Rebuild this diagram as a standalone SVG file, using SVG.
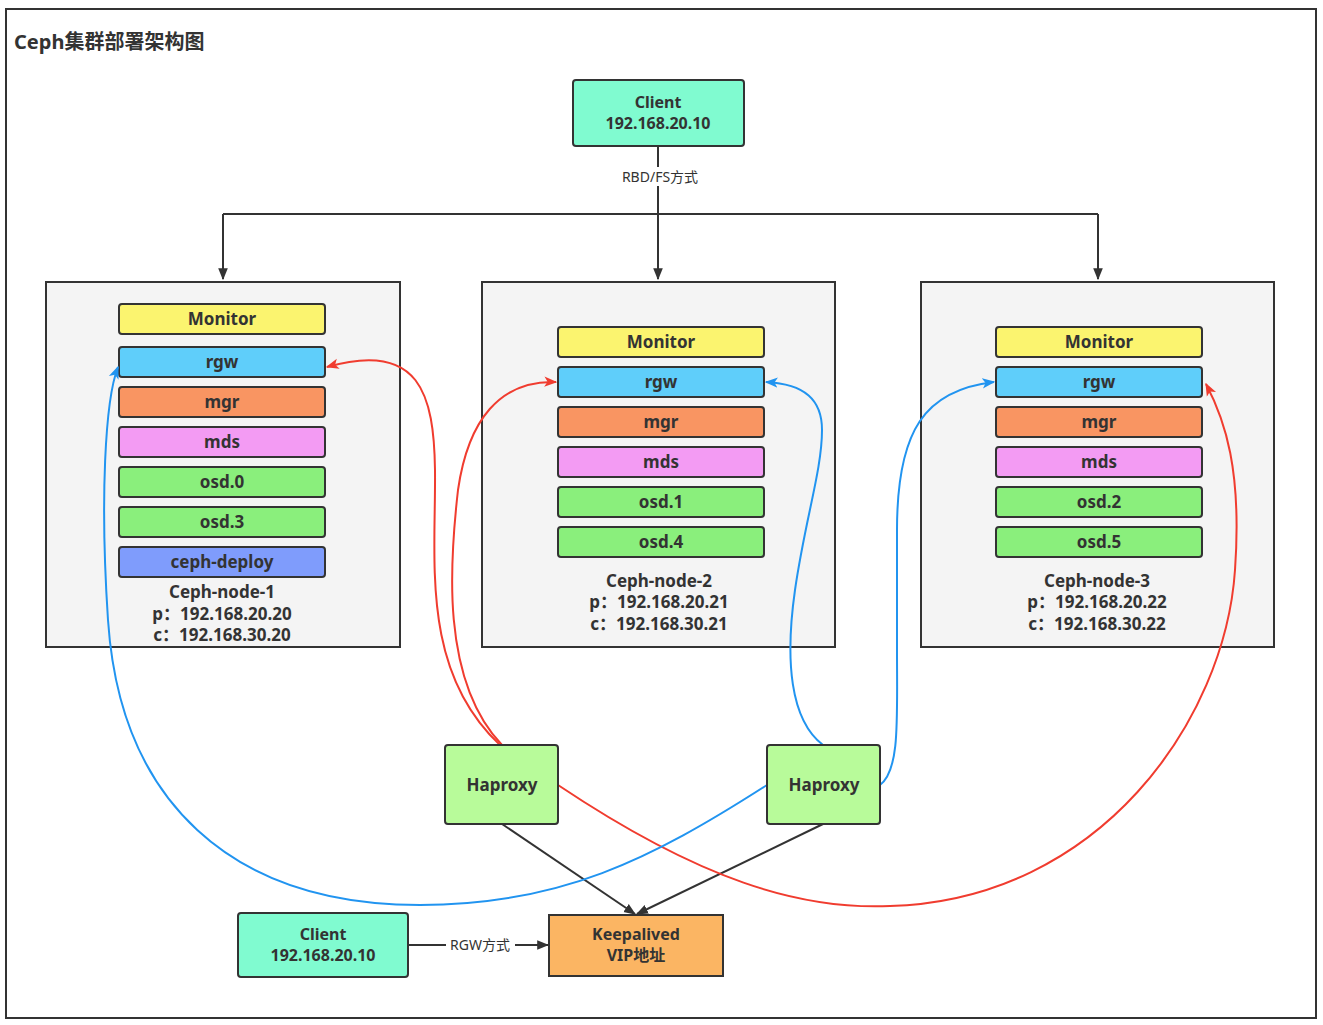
<svg xmlns="http://www.w3.org/2000/svg" width="1323" height="1025" viewBox="0 0 1323 1025">
<defs>
<style>
.t{font-family:"Noto Sans","Noto Sans CJK SC",sans-serif;font-weight:bold;fill:#333;text-anchor:middle;font-size:17px}
.t2{font-family:"Noto Sans","Noto Sans CJK SC",sans-serif;font-weight:bold;fill:#333;text-anchor:middle;font-size:16px}
.l{font-family:"Noto Sans","Noto Sans CJK SC",sans-serif;fill:#333;text-anchor:middle;font-size:14px}
.item{stroke:#333;stroke-width:2}
.box{fill:#f4f4f4;stroke:#333;stroke-width:2}
.blk{fill:none;stroke:#333;stroke-width:2}
.red{fill:none;stroke:#f03c2f;stroke-width:2}
.blu{fill:none;stroke:#2194f0;stroke-width:2}
</style>
<marker id="ab" viewBox="0 0 10 10" refX="9" refY="5" markerWidth="12" markerHeight="12" orient="auto" markerUnits="userSpaceOnUse"><path d="M0,1 L10,5 L0,9 z" fill="#333"/></marker>
<marker id="ar" viewBox="0 0 10 10" refX="9" refY="5" markerWidth="13" markerHeight="13" orient="auto" markerUnits="userSpaceOnUse"><path d="M0,1 L10,5 L0,9 L2.5,5 z" fill="#f03c2f"/></marker>
<marker id="au" viewBox="0 0 10 10" refX="9" refY="5" markerWidth="13" markerHeight="13" orient="auto" markerUnits="userSpaceOnUse"><path d="M0,1 L10,5 L0,9 L2.5,5 z" fill="#2194f0"/></marker>
</defs>
<rect width="1323" height="1025" fill="#fff"/>
<rect x="6" y="9" width="1310" height="1009" fill="#fff" stroke="#333" stroke-width="2"/>
<text x="14" y="49" font-family="'Noto Sans','Noto Sans CJK SC',sans-serif" font-weight="bold" font-size="20" fill="#333">Ceph集群部署架构图</text>

<g id="node1">
<rect class="box" x="46" y="282" width="354" height="365"/>
<rect class="item" x="119" y="304" width="206" height="30" rx="3" fill="#fbf46f"/><text class="t" x="222" y="325">Monitor</text>
<rect class="item" x="119" y="347" width="206" height="30" rx="3" fill="#5fcefa"/><text class="t" x="222" y="368">rgw</text>
<rect class="item" x="119" y="387" width="206" height="30" rx="3" fill="#f99562"/><text class="t" x="222" y="408">mgr</text>
<rect class="item" x="119" y="427" width="206" height="30" rx="3" fill="#f39bf3"/><text class="t" x="222" y="448">mds</text>
<rect class="item" x="119" y="467" width="206" height="30" rx="3" fill="#8aef7c"/><text class="t" x="222" y="488">osd.0</text>
<rect class="item" x="119" y="507" width="206" height="30" rx="3" fill="#8aef7c"/><text class="t" x="222" y="528">osd.3</text>
<rect class="item" x="119" y="547" width="206" height="30" rx="3" fill="#7f9cfc"/><text class="t" x="222" y="568">ceph-deploy</text>
<text class="t" x="222" y="598">Ceph-node-1</text>
<text class="t" x="222" y="620">p：192.168.20.20</text>
<text class="t" x="222" y="641">c：192.168.30.20</text>
</g>

<g id="node2">
<rect class="box" x="482" y="282" width="353" height="365"/>
<rect class="item" x="558" y="327" width="206" height="30" rx="3" fill="#fbf46f"/><text class="t" x="661" y="348">Monitor</text>
<rect class="item" x="558" y="367" width="206" height="30" rx="3" fill="#5fcefa"/><text class="t" x="661" y="388">rgw</text>
<rect class="item" x="558" y="407" width="206" height="30" rx="3" fill="#f99562"/><text class="t" x="661" y="428">mgr</text>
<rect class="item" x="558" y="447" width="206" height="30" rx="3" fill="#f39bf3"/><text class="t" x="661" y="468">mds</text>
<rect class="item" x="558" y="487" width="206" height="30" rx="3" fill="#8aef7c"/><text class="t" x="661" y="508">osd.1</text>
<rect class="item" x="558" y="527" width="206" height="30" rx="3" fill="#8aef7c"/><text class="t" x="661" y="548">osd.4</text>
<text class="t" x="659" y="587">Ceph-node-2</text>
<text class="t" x="659" y="608">p：192.168.20.21</text>
<text class="t" x="659" y="630">c：192.168.30.21</text>
</g>

<g id="node3">
<rect class="box" x="921" y="282" width="353" height="365"/>
<rect class="item" x="996" y="327" width="206" height="30" rx="3" fill="#fbf46f"/><text class="t" x="1099" y="348">Monitor</text>
<rect class="item" x="996" y="367" width="206" height="30" rx="3" fill="#5fcefa"/><text class="t" x="1099" y="388">rgw</text>
<rect class="item" x="996" y="407" width="206" height="30" rx="3" fill="#f99562"/><text class="t" x="1099" y="428">mgr</text>
<rect class="item" x="996" y="447" width="206" height="30" rx="3" fill="#f39bf3"/><text class="t" x="1099" y="468">mds</text>
<rect class="item" x="996" y="487" width="206" height="30" rx="3" fill="#8aef7c"/><text class="t" x="1099" y="508">osd.2</text>
<rect class="item" x="996" y="527" width="206" height="30" rx="3" fill="#8aef7c"/><text class="t" x="1099" y="548">osd.5</text>
<text class="t" x="1097" y="587">Ceph-node-3</text>
<text class="t" x="1097" y="608">p：192.168.20.22</text>
<text class="t" x="1097" y="630">c：192.168.30.22</text>
</g>

<g id="connectors">
<path class="blk" d="M658,146 L658,279" stroke-width="3" marker-end="url(#ab)"/>
<path class="blk" d="M223,214 L1098,214"/>
<path class="blk" d="M223,214 L223,279" marker-end="url(#ab)"/>
<path class="blk" d="M1098,214 L1098,279" marker-end="url(#ab)"/>
<rect x="617" y="167" width="86" height="19" fill="#fff"/>
<text class="l" x="660" y="182">RBD/FS方式</text>

<path class="blk" d="M502,824 L635,914" marker-end="url(#ab)"/>
<path class="blk" d="M823,824 L637,914" marker-end="url(#ab)"/>
<path class="blk" d="M408,945 L548,945" marker-end="url(#ab)"/>
<rect x="446" y="936" width="69" height="19" fill="#fff"/>
<text class="l" x="480" y="950">RGW方式</text>

<path class="red" d="M500,745 C420,670 436,560 435,470 C434,395 420,340 327,367" marker-end="url(#ar)"/>
<path class="red" d="M502,745 C440,680 450,560 458,490 C468,420 500,380 556,382" marker-end="url(#ar)"/>
<path class="red" d="M558,785 C700,880 800,910 890,906 C1100,900 1225,720 1235,570 C1242,470 1225,420 1206,384" marker-end="url(#ar)"/>

<path class="blu" d="M823,745 C790,720 785,660 795,590 C805,520 822,470 822,430 C822,400 805,384 766,382" marker-end="url(#au)"/>
<path class="blu" d="M880,785 C900,770 897,720 897,650 L897,530 C897,430 925,390 994,382" marker-end="url(#au)"/>
<path class="blu" d="M767,785 C650,860 560,905 420,905 C230,905 120,800 108,620 C100,500 105,400 118,367" marker-end="url(#au)"/>
</g>

<g id="client-top">
<rect x="573" y="80" width="171" height="66" rx="3" fill="#80fbd0" stroke="#333" stroke-width="2"/>
<text class="t2" x="658" y="108">Client</text>
<text class="t2" x="658" y="129">192.168.20.10</text>
</g>

<g id="haproxy1">
<rect x="445" y="745" width="113" height="79" rx="3" fill="#b8fb9a" stroke="#333" stroke-width="2"/>
<text class="t" x="502" y="791">Haproxy</text>
</g>
<g id="haproxy2">
<rect x="767" y="745" width="113" height="79" rx="3" fill="#b8fb9a" stroke="#333" stroke-width="2"/>
<text class="t" x="824" y="791">Haproxy</text>
</g>

<g id="keepalived">
<rect x="549" y="915" width="174" height="61" fill="#fbb563" stroke="#333" stroke-width="2"/>
<text class="t2" x="636" y="940">Keepalived</text>
<text class="t2" x="636" y="961">VIP地址</text>
</g>

<g id="client-bottom">
<rect x="238" y="913" width="170" height="64" rx="3" fill="#80fbd0" stroke="#333" stroke-width="2"/>
<text class="t2" x="323" y="940">Client</text>
<text class="t2" x="323" y="961">192.168.20.10</text>
</g>
</svg>
